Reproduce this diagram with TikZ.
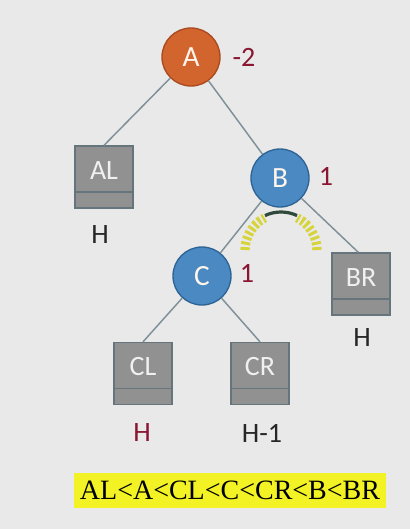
\documentclass[tikz,border=0pt]{standalone}
\usepackage{fontspec}
\setmainfont{Liberation Serif}
\newfontfamily\calib{Carlito}
\definecolor{bg}{HTML}{E9E9E9}
\definecolor{orangeA}{HTML}{D2642E}
\definecolor{orangeB}{HTML}{A94A1F}
\definecolor{blueF}{HTML}{4A89C2}
\definecolor{blueB}{HTML}{2E6494}
\definecolor{boxF}{HTML}{919191}
\definecolor{boxB}{HTML}{66757C}
\definecolor{edgeC}{HTML}{7E9098}
\definecolor{numred}{HTML}{8A1633}
\definecolor{hl}{HTML}{F2F224}
\definecolor{hatch}{HTML}{D6D43A}
\definecolor{darkarc}{HTML}{2F4A3A}
\begin{document}
\begin{tikzpicture}[x=0.75pt,y=-0.75pt,
  circnode/.style={circle,minimum size=43.5pt,inner sep=0pt,line width=1pt,
    font=\calib\fontsize{22}{26}\selectfont,text=white!92!orange},
  orangenode/.style={circnode,fill=orangeA,draw=orangeB},
  bluenode/.style={circnode,fill=blueF,draw=blueB},
  boxnode/.style={rectangle,minimum width=43.5pt,minimum height=46.5pt,inner sep=0pt,
    fill=boxF,draw=boxB,line width=1pt,text=white!88!gray,
    font=\calib\fontsize{21}{25}\selectfont,text height=14pt,text depth=11pt,
    path picture={\draw[boxB,line width=0.8pt]
      ([yshift=12pt]path picture bounding box.south west) --
      ([yshift=12pt]path picture bounding box.south east);}},
  hlabel/.style={font=\calib\fontsize{21}{25}\selectfont,text=black!85,inner sep=0pt},
  numlabel/.style={font=\calib\fontsize{21}{25}\selectfont,text=numred,inner sep=0pt},
  edge/.style={draw=edgeC,line width=1.1pt},
  hatchband/.style={hatch,line width=7pt,dash pattern=on 2.2pt off 1.8pt}
]
\useasboundingbox[fill=bg] (0,0) rectangle (410,529);
\node[orangenode] (A) at (191,57) {A};
\node[boxnode] (AL) at (104,177) {AL};
\node[bluenode] (B) at (280,178) {B};
\node[bluenode] (C) at (202,276) {C};
\node[boxnode] (BR) at (361,284) {BR};
\node[boxnode] (CL) at (143,373.5) {CL};
\node[boxnode] (CR) at (260,373.5) {CR};
\draw[edge] (A) -- (AL.north);
\draw[edge] (A) -- (B);
\draw[edge] (B) -- (C);
\draw[edge] (B) -- ([xshift=-2pt]BR.north);
\draw[edge] (C) -- (CL.north);
\draw[edge] (C) -- (CR.north);
% labels
\node[numlabel] (nA) at (244,57) {-2};
\node[numlabel] (nB) at (326,176) {1};
\node[numlabel] (nC) at (247,273) {1};
\node[hlabel] (hAL) at (100,235) {H};
\node[hlabel] (hBR) at (362,338) {H};
\node[hlabel,text=numred] (hCL) at (142,433) {H};
\node[hlabel] (hCR) at (262,433) {H-1};
% rotation arc
\coordinate (arcC) at (281,250);
\draw[hatchband] (arcC) ++(180:36) arc[start angle=180,end angle=243,radius=36];
\draw[hatchband] (arcC) ++(360:36) arc[start angle=360,end angle=297,radius=36];
\draw[darkarc,line width=2.4pt] (arcC) ++(245:38) arc[start angle=245,end angle=295,radius=38];
% ordering
\node[fill=hl,minimum width=234pt,minimum height=26pt,inner sep=0pt,
  font=\fontsize{21}{24}\selectfont] (order) at (230,490.5) {AL<A<CL<C<CR<B<BR};
\end{tikzpicture}
\end{document}
